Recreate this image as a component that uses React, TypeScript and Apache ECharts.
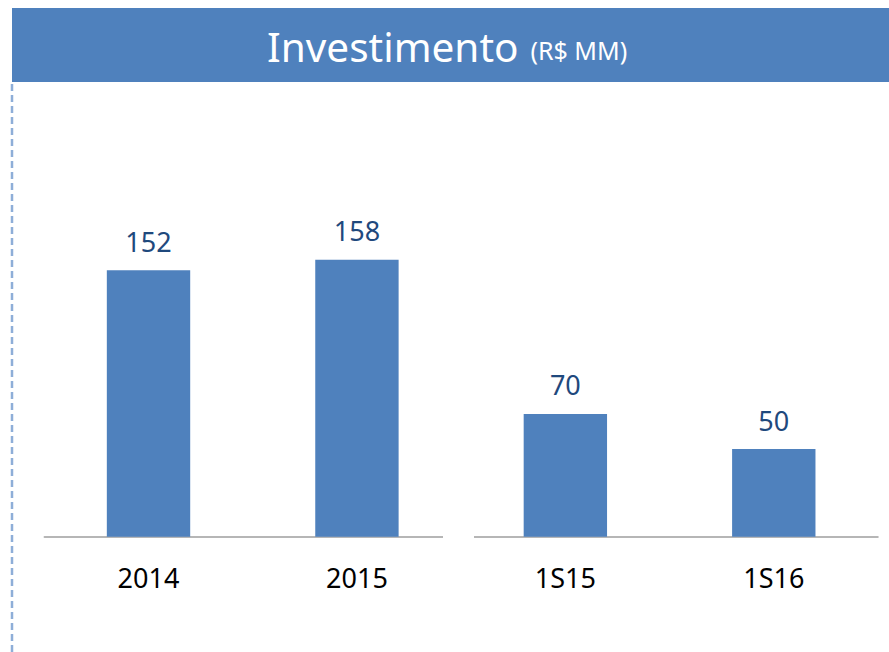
import React, { useEffect, useRef } from "react";
import * as echarts from "echarts";

const categories = ["2014", "2015", "1S15", "1S16"];
const values = [152, 158, 70, 50];
const titleMain = "Investimento";
const titleUnit = "(R$ MM)";

const FONT = "'Noto Sans', sans-serif";
const BLUE = "#4F81BD";

export default function App() {
  const ref = useRef<HTMLDivElement>(null);
  useEffect(() => {
    if (!ref.current) return;
    const chart = echarts.init(ref.current, undefined, { renderer: "svg" });
    chart.setOption({
      animation: false,
      backgroundColor: "#ffffff",
      grid: { left: 44.3, right: 11, top: 186, bottom: 115.3, containLabel: false },
      xAxis: {
        type: "category",
        data: categories,
        z: 1,
        axisLine: { show: true, lineStyle: { color: "#9E9E9E", width: 1.5 } },
        axisTick: { show: false },
        axisLabel: { color: "#000000", fontSize: 27, fontFamily: FONT, margin: 27 },
      },
      yAxis: {
        type: "value",
        min: 0,
        max: 200,
        show: false,
        splitLine: { show: false },
      },
      series: [
        {
          type: "bar",
          data: values,
          barWidth: "40%",
          z: 2,
          itemStyle: { color: BLUE },
          label: {
            show: true,
            position: "top",
            distance: 15.5,
            color: "#1F497D",
            fontSize: 27,
            fontFamily: FONT,
          },
        },
      ],
      graphic: [
        {
          type: "rect",
          z: 100,
          shape: { x: 12, y: 8, width: 877, height: 74 },
          style: { fill: BLUE },
          silent: true,
        },
        {
          type: "text",
          z: 101,
          x: 267,
          y: 46,
          style: {
            text: "{a|" + titleMain + "}{b|" + titleUnit + "}",
            align: "left",
            verticalAlign: "middle",
            rich: {
              a: { fontSize: 40.5, fontFamily: FONT, fill: "#ffffff", color: "#ffffff" },
              b: { fontSize: 25, fontFamily: FONT, fill: "#ffffff", color: "#ffffff", padding: [8, 0, 0, 12] },
            },
          },
          silent: true,
        },
        {
          type: "line",
          z: 100,
          shape: { x1: 12, y1: 84, x2: 12, y2: 652 },
          style: { stroke: "#8EAED8", lineWidth: 2.5, lineDash: [7, 4] },
          silent: true,
        },
        {
          type: "rect",
          z: 100,
          shape: { x: 443, y: 533, width: 31, height: 8 },
          style: { fill: "#ffffff" },
          silent: true,
        },
      ],
    });
    return () => chart.dispose();
  }, []);
  return (
    <div
      ref={ref}
      style={{ position: "fixed", left: 0, top: 0, width: 889, height: 652 }}
    />
  );
}
